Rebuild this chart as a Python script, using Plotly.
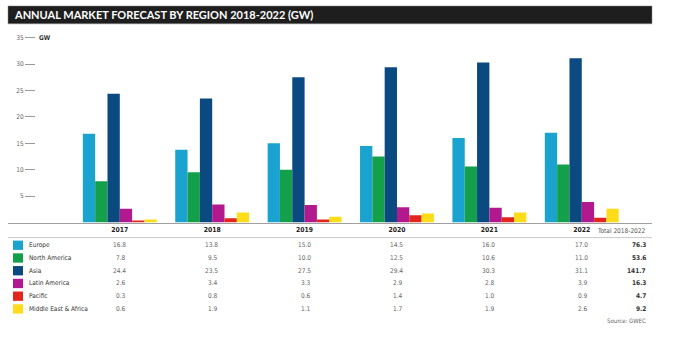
import plotly.graph_objects as go

# Annual installations by region, GW
years = ["2017", "2018", "2019", "2020", "2021", "2022"]
regions = ["Europe", "North America", "Asia", "Latin America", "Pacific", "Middle East & Africa"]
colors = ["#1ba3d0", "#14a04a", "#0b4a80", "#b3198e", "#e2261d", "#fddc1a"]

europe = [16.8, 13.8, 15.0, 14.5, 16.0, 17.0]
north_america = [7.8, 9.5, 10.0, 12.5, 10.6, 11.0]
asia = [24.4, 23.5, 27.5, 29.4, 30.3, 31.1]
latin_america = [2.6, 3.4, 3.3, 2.9, 2.8, 3.9]
pacific = [0.3, 0.8, 0.6, 1.4, 1.0, 0.9]
middle_east_africa = [0.6, 1.9, 1.1, 1.7, 1.9, 2.6]
totals = [76.3, 53.6, 141.7, 16.3, 4.7, 9.2]

series = [europe, north_america, asia, latin_america, pacific, middle_east_africa]
ytick_vals = [5, 10, 15, 20, 25, 30, 35]

W, H = 673, 340
X0, X1 = 8, 652              # plot area horizontal extent (px)
Y_BASE, Y_TOP = 221.5, 33.9  # y=0 and y=35.2 (px from top)


def px(x):
    return x / W


def py(y):
    return 1 - y / H


fig = go.Figure()
for name, vals, col in zip(regions, series, colors):
    fig.add_trace(go.Bar(x=years, y=vals, name=name, marker=dict(color=col, line=dict(width=0)),
                         showlegend=False))

label_font = "DejaVu Sans Condensed, Liberation Sans Narrow, Roboto, sans-serif"
fs = 6.5

fig.update_layout(
    width=W, height=H,
    margin=dict(l=0, r=0, t=0, b=0),
    paper_bgcolor="white", plot_bgcolor="white",
    barmode="group", bargap=0.2, bargroupgap=0,
    xaxis=dict(
        type="category",
        domain=[px(X0), px(X1)],
        range=[-1.21, 5.76],
        showline=True, linecolor="#a0a0a0", linewidth=1,
        showgrid=False, zeroline=False,
        ticks="",
        tickfont=dict(family=label_font, size=6.8, color="#222222", weight="bold"),
    ),
    yaxis=dict(
        domain=[py(Y_BASE), py(Y_TOP)],
        range=[0, 35.2],
        anchor="free", position=px(35),
        showline=False, showgrid=False, zeroline=False,
        tickvals=ytick_vals,
        ticks="outside", ticklen=10, tickwidth=1, tickcolor="#9a9a9a",
        tickfont=dict(family=label_font, size=fs, color="#666666"),
    ),
)

shapes = []
annotations = []

# Title band
shapes.append(dict(type="rect", xref="paper", yref="paper",
                   x0=px(8), x1=px(652), y0=py(21), y1=py(3),
                   fillcolor="#1e1e1e", line=dict(color="#8a8a8a", width=0.5), layer="below"))
annotations.append(dict(text="ANNUAL MARKET FORECAST BY REGION 2018-2022 (GW)",
                        xref="paper", yref="paper", x=px(12), y=py(12),
                        xanchor="left", yanchor="middle", showarrow=False,
                        font=dict(family="Lato, sans-serif", size=11, color="white", weight="bold")))

# Unit label next to the top tick
annotations.append(dict(text="<b>GW</b>", xref="paper", yref="y", x=px(37), y=35,
                        xanchor="left", yanchor="middle", showarrow=False,
                        font=dict(family=label_font, size=fs, color="#333333")))

# Rule under the table header
shapes.append(dict(type="line", xref="paper", yref="paper",
                   x0=px(X0), x1=px(X1), y0=py(236.7), y1=py(236.7),
                   line=dict(color="#c8c8c8", width=1)))

annotations.append(dict(text="Total 2018-2022", xref="paper", yref="paper",
                        x=px(648), y=py(230), xanchor="right", yanchor="middle",
                        showarrow=False, font=dict(family=label_font, size=fs, color="#555555")))

row_y0, row_step = 244.4, 12.85
for i, (name, vals, col, tot) in enumerate(zip(regions, series, colors, totals)):
    y = row_y0 + i * row_step
    shapes.append(dict(type="rect", xref="paper", yref="paper",
                       x0=px(13), x1=px(23), y0=py(y + 4.7), y1=py(y - 4.7),
                       fillcolor=col, line=dict(width=0)))
    annotations.append(dict(text=name, xref="paper", yref="paper", x=px(27), y=py(y),
                            xanchor="left", yanchor="middle", showarrow=False,
                            font=dict(family=label_font, size=fs, color="#333333")))
    for k, v in enumerate(vals):
        annotations.append(dict(text=f"{v:.1f}", xref="x", yref="paper", x=k, y=py(y),
                                xanchor="right", yanchor="middle", xshift=8, showarrow=False,
                                font=dict(family=label_font, size=fs, color="#666666")))
    annotations.append(dict(text=f"<b>{tot:.1f}</b>", xref="paper", yref="paper",
                            x=px(648), y=py(y), xanchor="right", yanchor="middle",
                            showarrow=False, font=dict(family=label_font, size=fs, color="#333333")))

annotations.append(dict(text="Source: GWEC", xref="paper", yref="paper", x=px(648), y=py(320),
                        xanchor="right", yanchor="middle", showarrow=False,
                        font=dict(family=label_font, size=6, color="#666666")))

fig.update_layout(shapes=shapes, annotations=annotations)
fig.write_html("out.html")
